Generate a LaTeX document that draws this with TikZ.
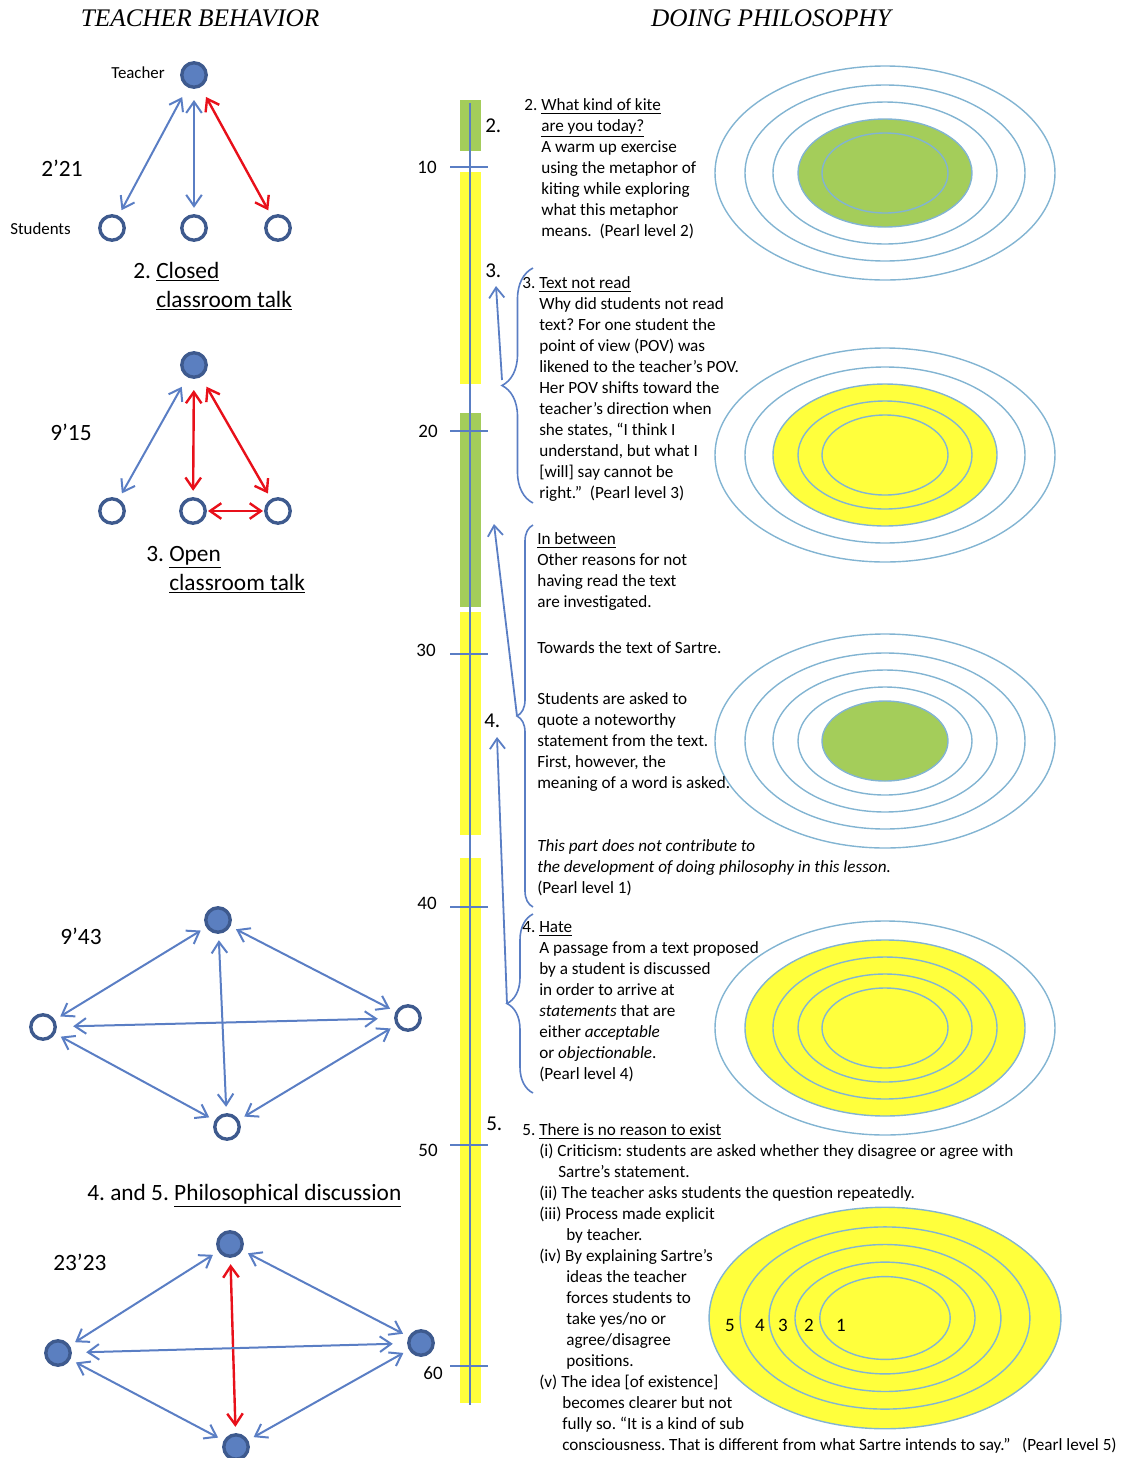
\documentclass[tikz,border=0pt]{standalone}
\usepackage{fontspec}
\setmainfont{Carlito}
\newfontfamily\headfont{Liberation Serif}
\usetikzlibrary{arrows.meta, positioning, decorations.pathreplacing}
\definecolor{arrowBlue}{HTML}{5A7EC4}
\definecolor{nodeFill}{HTML}{5B7FC0}
\definecolor{nodeBorder}{HTML}{3E5A8E}
\definecolor{arrowRed}{HTML}{E8101A}
\definecolor{ringBlue}{HTML}{82B4D2}
\definecolor{barGreen}{HTML}{A4CD5A}
\definecolor{barYellow}{HTML}{FFFF3C}
\frenchspacing

\tikzset{
  person/.style={circle, minimum size=6.1mm, inner sep=0pt, outer sep=2mm, line width=0.85mm, draw=nodeBorder},
  teacher/.style={person, fill=nodeFill},
  pupil/.style={person, fill=white},
  talk/.style={arrowBlue, line width=0.5mm, {Straight Barb[length=2.8mm, width=3.9mm]}-{Straight Barb[length=2.8mm, width=3.9mm]}},
  redtalk/.style={talk, arrowRed, line width=0.6mm},
  pointer/.style={arrowBlue, line width=0.45mm, -{Straight Barb[length=2.6mm, width=3.8mm]}},
  ring/.style={ringBlue, line width=0.35mm},
  timebrace/.style={arrowBlue, line width=0.4mm, decorate, decoration={brace, amplitude=#1}},
  body/.style={font=\fontsize{12.2}{14.9}\selectfont, align=left, anchor=north west, inner sep=0pt},
  small/.style={font=\fontsize{12}{14.9}\selectfont, anchor=west, inner sep=0pt},
  big/.style={font=\fontsize{16.6}{20.6}\selectfont, anchor=west, inner sep=0pt},
  bigblock/.style={big, align=left, anchor=north west},
  phase/.style={font=\fontsize{15}{18}\selectfont, anchor=west, inner sep=0pt},
  ticknum/.style={font=\fontsize{13.5}{16}\selectfont, anchor=east, inner sep=0pt},
  head/.style={font=\headfont\itshape\fontsize{18}{22}\selectfont, inner sep=0pt}
}

\begin{document}
\begin{tikzpicture}[x=0.25mm, y=-0.25mm]
\useasboundingbox (0,0) rectangle (1125,1458);

% Headings
\node[head] (hdTeacher) at (200,18) {TEACHER BEHAVIOR};
\node[head] (hdDoing) at (771,18) {DOING PHILOSOPHY};

% 2. Closed classroom talk
\node[teacher, outer sep=3.2mm] (tA) at (194,75) {};
\node[pupil] (sA1) at (112,228) {};
\node[pupil] (sA2) at (194,228) {};
\node[pupil] (sA3) at (278,228) {};
\draw[talk] (tA) -- (sA1);
\draw[talk] (tA) -- (sA2);
\draw[redtalk] (tA) -- (sA3);
\node[small] (lblTeacher) at (111,73) {Teacher};
\node[small] (lblStudents) at (10,229) {Students};
\node[big] (timeA) at (41,168) {2’21};
\node[bigblock] (capA) at (156,258) {\strut\llap{2.\ }\underline{Closed}\\ \underline{classroom talk}};

% 3. Open classroom talk
\node[teacher, outer sep=3.2mm] (tB) at (194,365) {};
\node[pupil] (sB1) at (112,511) {};
\node[pupil] (sB2) at (193,511) {};
\node[pupil] (sB3) at (278,511) {};
\draw[talk] (tB) -- (sB1);
\draw[redtalk] (tB) -- (sB2);
\draw[redtalk] (tB) -- (sB3);
\draw[redtalk, shorten <=-1.3mm, shorten >=-1.3mm] (sB2) -- (sB3);
\node[big] (timeB) at (50,432) {9’15};
\node[bigblock] (capB) at (169,541) {\strut\llap{3.\ }\underline{Open}\\ \underline{classroom talk}};

% 4. and 5. Philosophical discussion (9'43)
\node[teacher] (tC) at (218,920) {};
\node[pupil] (lC) at (43,1027) {};
\node[pupil] (rC) at (408,1018) {};
\node[pupil] (bC) at (227,1127) {};
\draw[talk] (tC) -- (lC);
\draw[talk] (tC) -- (bC);
\draw[talk] (tC) -- (rC);
\draw[talk, shorten <=2.5mm, shorten >=2.5mm] (lC) -- (rC);
\draw[talk] (lC) -- (bC);
\draw[talk] (rC) -- (bC);
\node[big] (timeC) at (60,936) {9’43};
\node[big] (capC) at (87,1196) {4. and 5. \underline{Philosophical discussion}};

% 23'23
\node[teacher] (tD) at (230,1244) {};
\node[teacher] (lD) at (58,1353) {};
\node[teacher] (rD) at (421,1343) {};
\node[teacher] (bD) at (236,1447) {};
\draw[talk] (tD) -- (lD);
\draw[talk] (tD) -- (rD);
\draw[redtalk] (tD) -- (bD);
\draw[talk, shorten <=2mm, shorten >=2mm] (lD) -- (rD);
\draw[talk] (lD) -- (bD);
\draw[talk] (rD) -- (bD);
\node[big] (timeD) at (53,1262) {23’23};

% Time line with phases
\fill[barGreen] (460,100) rectangle (481,151);
\fill[barYellow] (460,172) rectangle (481,384);
\fill[barGreen] (460,413) rectangle (481,607);
\fill[barYellow] (460,612) rectangle (481,835);
\fill[barYellow] (460,858) rectangle (481,1403);
\draw[arrowBlue, line width=0.5mm] (470,103) -- (470,1405);
\foreach \y/\ly/\lx/\n in {167/167/437/10, 431/431/438/20, 654/650/436/30, 907/903/437/40, 1145/1150/438/50, 1366/1373/443/60} {
  \draw[arrowBlue, line width=0.4mm] (450,\y) -- (488,\y);
  \node[ticknum] (min\n) at (\lx,\ly) {\n};
}
\node[phase] (ph2) at (485,126) {2.};
\node[phase] (ph3) at (485,271) {3.};
\node[phase] (ph4) at (484,721) {4.};
\node[phase] (ph5) at (486,1124) {5.};

% Braces pointing back to the phases
\draw[timebrace=7.75mm] (533,503) -- (533,268);
\draw[timebrace=4mm] (533,907) -- (533,525);
\draw[timebrace=6.5mm] (533,1093) -- (533,914);
\coordinate (brRead) at (502,380);
\coordinate (brBetween) at (517,716);
\coordinate (brHate) at (507,1004);
\coordinate (upRead) at (496,286);
\coordinate (upBetween) at (494,524);
\coordinate (upHate) at (497,737);
\draw[pointer] (brRead) -- (upRead);
\draw[pointer] (brBetween) -- (upBetween);
\draw[pointer] (brHate) -- (upHate);

% Pearl targets
\foreach \cy/\k/\col/\s in {173/4/barGreen/1, 455/3/barYellow/1, 741/5/barGreen/1, 1028/2/barYellow/1, 1318/1/barYellow/1.035} {
  \pgfmathsetmacro{\frx}{{170,140,112,87,63}[\k-1]}
  \pgfmathsetmacro{\fry}{{107,88,71,54,40}[\k-1]}
  \fill[\col] (885,\cy) ellipse [x radius=\s*\frx, y radius=\s*\fry];
  \foreach \rx/\ry in {170/107, 140/88, 112/71, 87/54, 63/40}
    \draw[ring] (885,\cy) ellipse [x radius=\s*\rx, y radius=\s*\ry];
}
\foreach \x/\n in {730/5, 760/4, 783/3, 809/2, 841/1}
  \node[font=\fontsize{13.5}{16}\selectfont, inner sep=0pt] (lvl\n) at (\x,1325) {\n};

% Phase texts
\node[body] (txtKite) at (541,96) {\strut\llap{2.\ }\underline{What kind of kite}\\
  \underline{are you today?}\\ A warm up exercise\\ using the metaphor of\\
  kiting while exploring\\ what this metaphor\\ means.\ \ (Pearl level 2)};
\node[body] (txtRead) at (539,274) {\strut\llap{3.\ }\underline{Text not read}\\
  Why did students not read\\ text? For one student the\\ point of view (POV) was\\
  likened to the teacher’s POV.\\ Her POV shifts toward the\\ teacher’s direction when\\
  she states, “I think I\\ understand, but what I\\ {[}will{]} say cannot be\\
  right.”\ \ (Pearl level 3)};
\node[body] (txtBetween) at (537,530) {\strut\underline{In between}\\ Other reasons for not\\
  having read the text\\ are investigated.};
\node[body] (txtSartre) at (537,639) {\strut Towards the text of Sartre.};
\node[body] (txtQuote) at (537,690) {\strut Students are asked to\\ quote a noteworthy\\
  statement from the text.\\ First, however, the\\ meaning of a word is asked.};
\node[body] (txtLevel1) at (537,837) {\strut\textit{This part does not contribute to}\\
  \textit{the development of doing philosophy in this lesson.}\\ (Pearl level 1)};
\node[body] (txtHate) at (539,918) {\strut\llap{4.\ }\underline{Hate}\\
  A passage from a text proposed\\ by a student is discussed\\ in order to arrive at\\
  \textit{statements} that are\\ either \textit{acceptable}\\ or \textit{objectionable}.\\
  (Pearl level 4)};
\node[body] (txtExist) at (539,1121) {\strut\llap{5.\ }\underline{There is no reason to exist}\\
  (i) Criticism: students are asked whether they disagree or agree with\\
  \hspace*{4.75mm}Sartre’s statement.\\
  (ii) The teacher asks students the question repeatedly.\\
  (iii) Process made explicit\\ \hspace*{6.75mm}by teacher.\\
  (iv) By explaining Sartre’s\\ \hspace*{6.75mm}ideas the teacher\\
  \hspace*{6.75mm}forces students to\\ \hspace*{6.75mm}take yes/no or\\
  \hspace*{6.75mm}agree/disagree\\ \hspace*{6.75mm}positions.\\
  (v) The idea {[}of existence{]}\\ \hspace*{5.75mm}becomes clearer but not\\
  \hspace*{5.75mm}fully so. “It is a kind of sub\\
  \hspace*{5.75mm}consciousness. That is different from what Sartre intends to say.”\ \ \ (Pearl level 5)};
\end{tikzpicture}
\end{document}
